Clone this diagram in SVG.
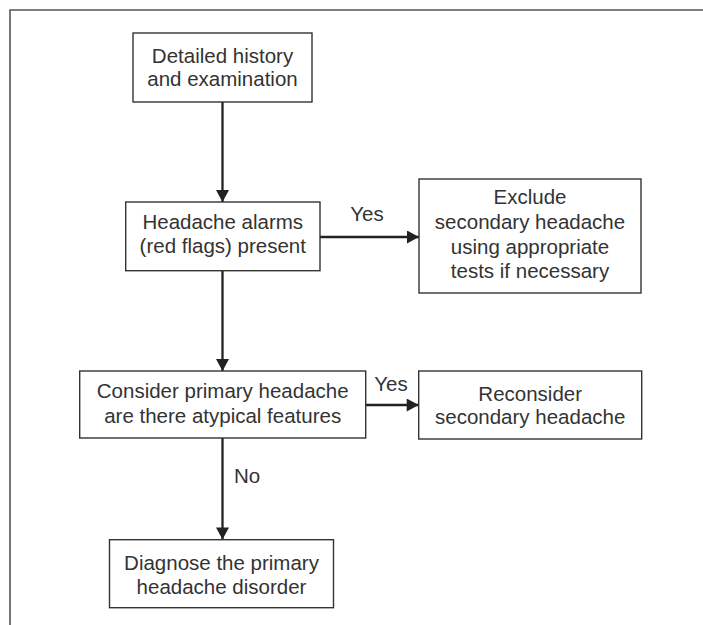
<svg xmlns="http://www.w3.org/2000/svg" width="703" height="625" viewBox="0 0 703 625">
<defs>
<style>
.box{fill:#fff;stroke:#333;stroke-width:1.4}
.t{font-family:"Liberation Sans",Arial,sans-serif;font-size:20.5px;fill:#333;text-anchor:middle}
.lbl{font-family:"Liberation Sans",Arial,sans-serif;font-size:20.5px;fill:#333}
.c{stroke:#222;stroke-width:2.3;fill:none}
.frame{stroke:#555;stroke-width:1.6;fill:none}
</style>
<marker id="ah" markerUnits="userSpaceOnUse" markerWidth="13" markerHeight="13" viewBox="0 0 12 13" refX="12" refY="6.5" orient="auto">
<path d="M0,0 L12,6.5 L0,13 Z" fill="#222"/>
</marker>
</defs>
<rect width="703" height="625" fill="#fff"/>
<path class="frame" d="M10,625 L10,10 L703,10"/>
<g id="connectors">
<line class="c" x1="222.5" y1="102" x2="222.5" y2="202" marker-end="url(#ah)"/>
<line class="c" x1="222.5" y1="270.7" x2="222.5" y2="371" marker-end="url(#ah)"/>
<line class="c" x1="320" y1="237" x2="419" y2="237" marker-end="url(#ah)"/>
<line class="c" x1="365.7" y1="405" x2="418.7" y2="405" marker-end="url(#ah)"/>
<line class="c" x1="222.5" y1="438" x2="222.5" y2="539.5" marker-end="url(#ah)"/>
<text class="lbl" x="367" y="220.5" text-anchor="middle">Yes</text>
<text class="lbl" x="391" y="390.5" text-anchor="middle">Yes</text>
<text class="lbl" x="234" y="482.5">No</text>
</g>
<g id="n1">
<rect class="box" x="133" y="33" width="179" height="69"/>
<text class="t" x="222.5" y="63">Detailed history</text>
<text class="t" x="222.5" y="86">and examination</text>
</g>
<g id="n2">
<rect class="box" x="125.7" y="202" width="194.3" height="68.7"/>
<text class="t" x="222.8" y="229">Headache alarms</text>
<text class="t" x="222.8" y="252.5">(red flags) present</text>
</g>
<g id="n3">
<rect class="box" x="419" y="179" width="222" height="114"/>
<text class="t" x="530" y="204">Exclude</text>
<text class="t" x="530" y="229">secondary headache</text>
<text class="t" x="530" y="254">using appropriate</text>
<text class="t" x="530" y="278">tests if necessary</text>
</g>
<g id="n4">
<rect class="box" x="79.7" y="371" width="286" height="67"/>
<text class="t" x="222.7" y="398">Consider primary headache</text>
<text class="t" x="222.7" y="422.5">are there atypical features</text>
</g>
<g id="n5">
<rect class="box" x="418.7" y="371" width="223" height="68"/>
<text class="t" x="530.2" y="400.5">Reconsider</text>
<text class="t" x="530.2" y="424">secondary headache</text>
</g>
<g id="n6">
<rect class="box" x="109.5" y="539.7" width="224" height="68"/>
<text class="t" x="221.5" y="570">Diagnose the primary</text>
<text class="t" x="221.5" y="594">headache disorder</text>
</g>
</svg>
